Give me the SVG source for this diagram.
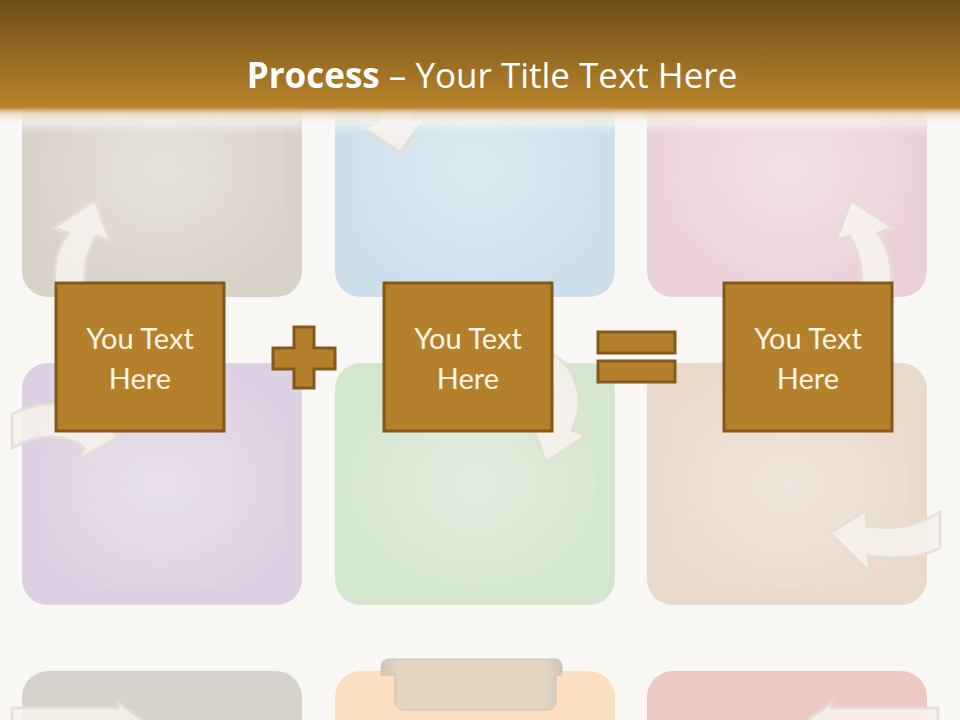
<svg xmlns="http://www.w3.org/2000/svg" width="960" height="720" viewBox="0 0 960 720">
<defs>
<linearGradient id="hdr" x1="0" y1="0" x2="0" y2="1">
<stop offset="0" stop-color="#6e4d19"/>
<stop offset="1" stop-color="#b9852b"/>
</linearGradient>
<linearGradient id="fade" x1="0" y1="0" x2="0" y2="1">
<stop offset="0" stop-color="#b9852b"/>
<stop offset="0.25" stop-color="#e9d9c2" stop-opacity="0.9"/>
<stop offset="0.6" stop-color="#faf8f4" stop-opacity="0.6"/>
<stop offset="1" stop-color="#faf8f4" stop-opacity="0"/>
</linearGradient>
<radialGradient id="glow" cx="0.5" cy="0.5" r="0.6">
<stop offset="0" stop-color="#ffffff" stop-opacity="0.35"/>
<stop offset="0.75" stop-color="#ffffff" stop-opacity="0.1"/>
<stop offset="1" stop-color="#ffffff" stop-opacity="0"/>
</radialGradient>
<linearGradient id="tab" x1="0" y1="0" x2="1" y2="0">
<stop offset="0" stop-color="#cfc6ba"/>
<stop offset="0.1" stop-color="#e3d5c2"/>
<stop offset="0.9" stop-color="#e3d5c2"/>
<stop offset="1" stop-color="#cfc6ba"/>
</linearGradient>
</defs>
<style>
.tile{stroke:none}
.inner{fill:url(#glow)}
.arw{fill:#f7f2ed;stroke:#e5dfd8;stroke-width:3;stroke-linejoin:round;opacity:0.9}
.box{fill:#b5802b;stroke:#83591c;stroke-width:3}
.sym{fill:#b5802b;stroke:#83591c;stroke-width:3}
.bt{font-family:Lato,"Open Sans",sans-serif;font-size:29px;fill:#fdf4e2;text-anchor:middle}
.title{font-family:"Open Sans","Noto Sans",sans-serif;font-size:35px;fill:#ffffff;text-anchor:middle}
</style>
<rect width="960" height="720" fill="#faf8f4"/>

<g id="tiles">
<rect class="tile" x="22" y="40" width="280" height="257" rx="26" fill="#d9d2c9"/>
<rect class="inner" x="40" y="55" width="245" height="225"/>
<rect class="tile" x="335" y="40" width="280" height="257" rx="26" fill="#cddfea"/>
<rect class="inner" x="353" y="55" width="245" height="225"/>
<rect class="tile" x="647" y="40" width="280" height="257" rx="26" fill="#ebd1d9"/>
<rect class="inner" x="665" y="55" width="245" height="225"/>
<rect class="tile" x="22" y="363" width="280" height="242" rx="26" fill="#ddd0e2"/>
<rect class="inner" x="40" y="378" width="245" height="212"/>
<rect class="tile" x="335" y="363" width="280" height="242" rx="26" fill="#d4e6cf"/>
<rect class="inner" x="353" y="378" width="245" height="212"/>
<rect class="tile" x="647" y="363" width="280" height="242" rx="26" fill="#e9d9cb"/>
<rect class="inner" x="665" y="378" width="245" height="212"/>
<rect class="tile" x="22" y="671" width="280" height="90" rx="26" fill="#d6d3cd"/>
<rect class="tile" x="335" y="671" width="280" height="90" rx="26" fill="#fbdfc0"/>
<rect class="tile" x="647" y="671" width="280" height="90" rx="26" fill="#ecc9c4"/>
<path d="M381 668 Q381 659 390 659 L555 659 Q562 659 562 668 L562 675 L556 675 L556 700 Q556 710 546 710 L405 710 Q395 710 395 700 L395 675 L381 675 Z" fill="url(#tab)" stroke="#cbc3b8" stroke-width="1"/>
</g>

<g id="arrows">
<path class="arw" d="M56 295 C52 268,57 248,68 233 L53 228 L95 200 L110 241 L96 236 C87 252,82 270,86 295 Z"/>
<path class="arw" transform="translate(946,0) scale(-1,1)" d="M56 295 C52 268,57 248,68 233 L53 228 L95 200 L110 241 L96 236 C87 252,82 270,86 295 Z"/>
<path class="arw" d="M363 128 L400 152 L427 117 L413 119 L420 95 L385 95 L378 122 Z"/>
<path class="arw" d="M12 414 C40 400,68 401,88 413 L92 402 L118 437 L80 459 L84 447 C65 434,40 433,12 448 Z"/>
<path class="arw" d="M546 352 C575 362,588 398,572 430 L586 436 L546 462 L530 420 L546 428 C557 402,555 376,538 364 Z"/>
<path class="arw" d="M830 533 L866 510 L867 526 C895 530,920 525,940 512 L940 548 C920 558,895 560,868 556 L870 572 Z"/>
<path class="arw" d="M12 708 L118 708 L118 702 L145 722 L12 722 Z"/>
<path class="arw" d="M938 708 L832 708 L832 702 L805 722 L938 722 Z"/>
</g>

<g id="header">
<rect x="0" y="0" width="960" height="108" fill="url(#hdr)"/>
<rect x="0" y="107" width="960" height="26" fill="url(#fade)"/>
<text class="title" x="492" y="88"><tspan font-weight="bold">Process</tspan> – Your Title Text Here</text>
</g>

<g id="connectors">
<path class="sym" d="M294 327 L314 327 L314 348 L335 348 L335 369 L314 369 L314 388 L294 388 L294 369 L273 369 L273 348 L294 348 Z"/>
<rect class="sym" x="598" y="332" width="77" height="21"/>
<rect class="sym" x="598" y="361" width="77" height="21"/>
</g>

<g id="box1">
<rect class="box" x="56" y="283" width="168" height="148"/>
<text class="bt" x="140" y="349">You Text</text>
<text class="bt" x="140" y="389">Here</text>
</g>
<g id="box2">
<rect class="box" x="384" y="283" width="168" height="148"/>
<text class="bt" x="468" y="349">You Text</text>
<text class="bt" x="468" y="389">Here</text>
</g>
<g id="box3">
<rect class="box" x="724" y="283" width="168" height="148"/>
<text class="bt" x="808" y="349">You Text</text>
<text class="bt" x="808" y="389">Here</text>
</g>
</svg>
